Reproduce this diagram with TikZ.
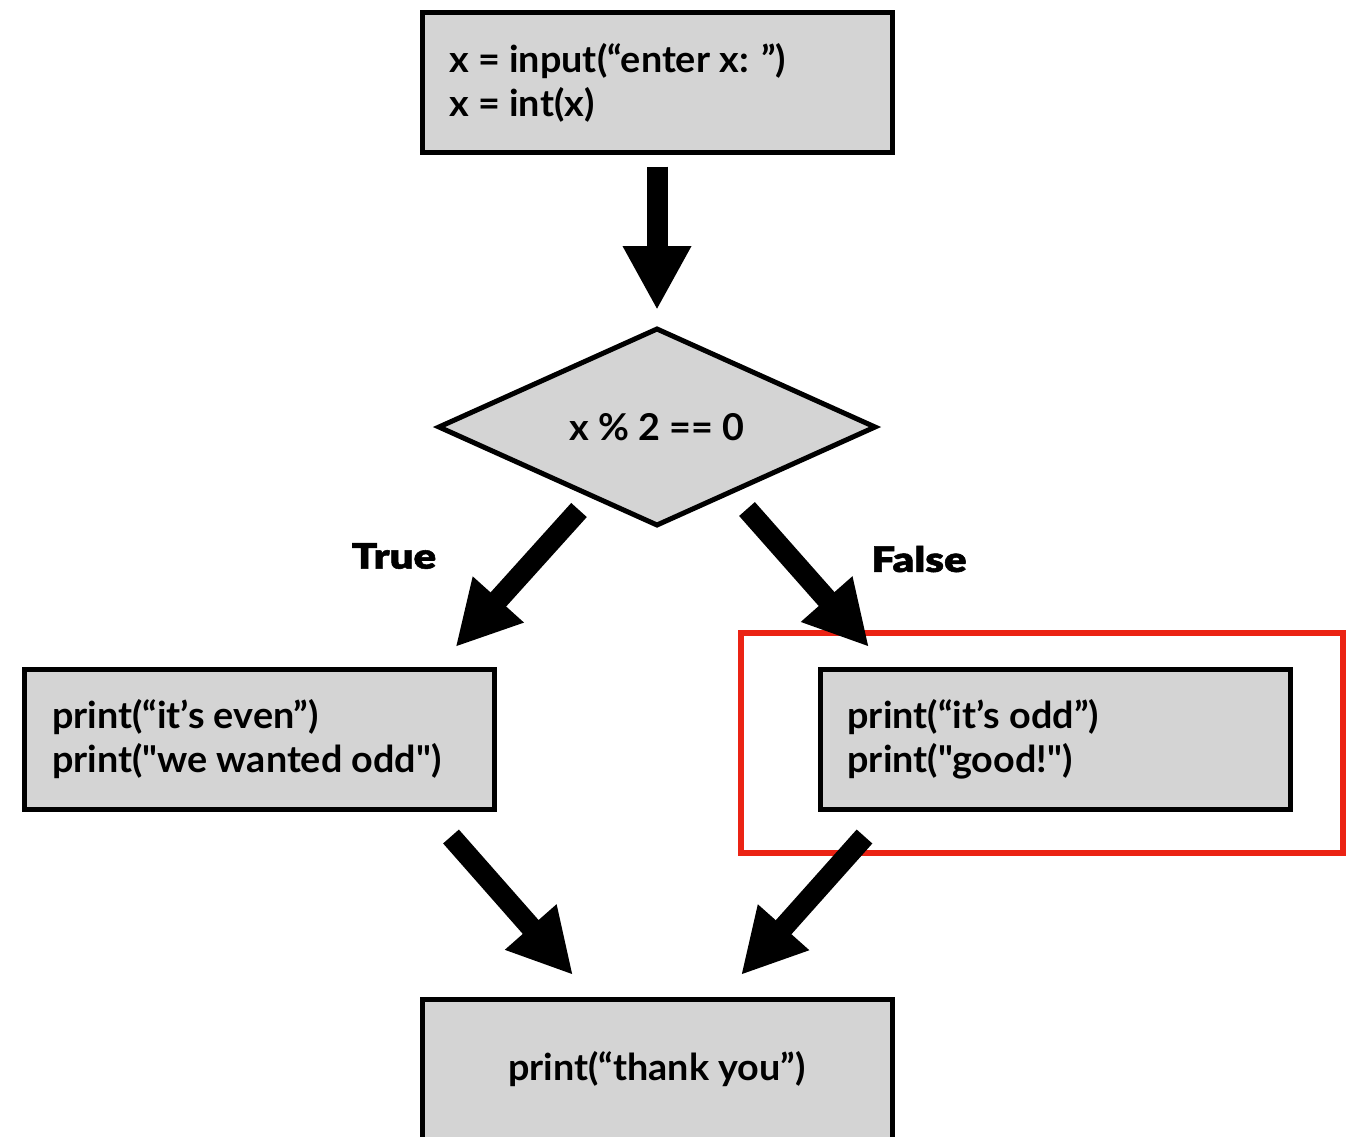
\documentclass[tikz,border=0pt]{standalone}
\usepackage{fontspec}
\setmainfont{Lato}[Ligatures=TeXOff, FakeStretch=1.02]
\newfontfamily\labelfont{Lato Black}[FakeStretch=1.2, RawFeature={embolden=1.5}]
\usetikzlibrary{arrows.meta,shapes.geometric}
\definecolor{boxgrey}{RGB}{212,212,212}
\definecolor{hlred}{RGB}{235,35,20}
\begin{document}
\begin{tikzpicture}[x=1pt,y=-1pt,
  codefont/.style={font=\bfseries\fontsize{37}{44}\selectfont},
  codebox/.style={draw=black, line width=5pt, fill=boxgrey, rectangle,
    outer sep=0pt, minimum width=470pt, minimum height=140pt, codefont},
  leftcode/.style={codebox, text width=415pt, inner xsep=27.5pt, align=flush left},
  decision/.style={draw=black, line width=5pt, fill=boxgrey, diamond,
    aspect=2.22, minimum width=436pt, minimum height=196pt, inner sep=0pt,
    outer sep=0pt, codefont},
  flow/.style={line width=21pt, -{Triangle[length=64pt,width=64pt]}},
  branch/.style={font=\labelfont\fontsize{35}{40}\selectfont},
  highlight/.style={draw=hlred, line width=6pt}]
\useasboundingbox (0,0) rectangle (1348,1136);
\fill[white] (0,0) rectangle (1348,1136);

% statements and the test
\node[leftcode] (top) at (657,82.5) {x = input(“enter x: ”)\\x = int(x)};
\node[decision] (dia) at (657,427) {x \% 2 == 0};
\node[leftcode] (lft) at (259.5,739) {print(“it’s even”)\\print("we wanted odd")};
\node[leftcode] (rgt) at (1055,739) {print(“it’s odd”)\\print("good!")};
\node[codebox, align=center] (bot) at (657,1069) {print(“thank you”)};

% branch labels
\node[branch] (tl) at (394,556) {True};
\node[branch] (fl) at (919,559) {False};

% outline around the odd branch
\draw[highlight] ([shift={(-79,-36)}]rgt.north west) rectangle ([shift={(53,44)}]rgt.south east);

% control flow
\draw[flow, shorten <=14pt, shorten >=19pt] (top.south) -- (dia.north);
\draw[flow] ([shift={(-78,-15)}]dia.south) -- ([shift={(-39,-22)}]lft.north east);
\draw[flow] ([shift={(90,-16)}]dia.south) -- ([shift={(49,-22)}]rgt.north west);
\draw[flow] ([shift={(-43.5,27.5)}]lft.south east) -- ([shift={(-84,-24)}]bot.north);
\draw[flow] ([shift={(44.5,27.5)}]rgt.south west) -- ([shift={(84,-24)}]bot.north);
\end{tikzpicture}
\end{document}
